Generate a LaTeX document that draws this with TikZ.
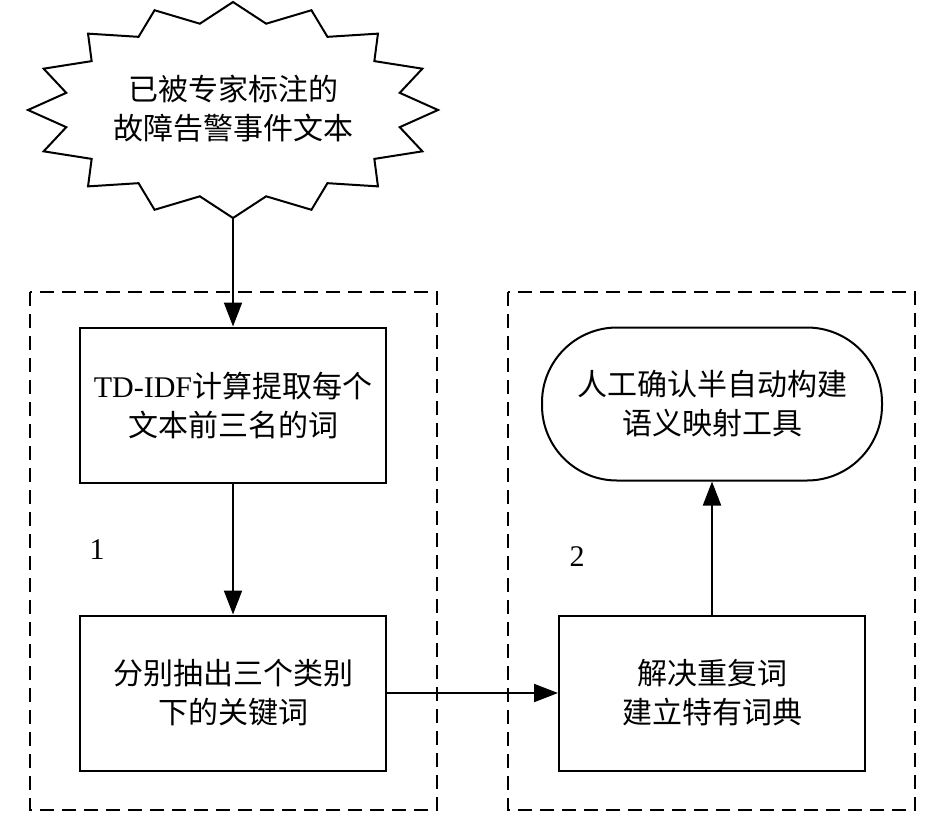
\documentclass[tikz,border=0pt]{standalone}
\usepackage{fontspec}
\setmainfont{Liberation Serif}
\newfontfamily\cjk{Noto Sans CJK SC}
\usetikzlibrary{arrows.meta}
\begin{document}
\begin{tikzpicture}[x=1pt,y=-1pt,
    testo/.style={align=center,font=\cjk\fontsize{30}{39}\selectfont},
    box/.style={testo,draw,line width=2pt,minimum width=306pt,minimum height=155pt},
    zona/.style={draw,line width=2pt,dash pattern=on 14pt off 8pt},
    freccia/.style={-{Triangle[length=24pt,width=18pt]},line width=2pt}]
    \useasboundingbox (0,0) rectangle (945,815);

    %stella
    \draw[line width=2pt,shift={(233,110)}] (90:205 and 108)
      \foreach \a in {1,...,16}{ -- (90+\a*22.5-11.25:170 and 88) -- (90+\a*22.5:205 and 108)} -- cycle;
    \node[testo] (testi) at (233,109) {已被专家标注的\\故障告警事件文本};
    \coordinate (punta) at (233,218);

    %riquadri tratteggiati
    \draw[zona] (30,292) rectangle (437,810);
    \draw[zona] (508,292) rectangle (915,810);

    %blocchi
    \node[box] (tfidf) at (233,405) {{\rmfamily TD-IDF}计算提取每个\\文本前三名的词};
    \node[box] (chiavi) at (233,693) {分别抽出三个类别\\下的关键词};
    \node[box] (dizionario) at (712,693) {解决重复词\\建立特有词典};
    \node[box,minimum width=340pt,minimum height=153pt,rounded corners=75pt] (mappa) at (712,404) {人工确认半自动构建\\语义映射工具};

    %frecce
    \draw[freccia] (punta) -- (tfidf);
    \draw[freccia] (tfidf) -- (chiavi);
    \draw[freccia] (chiavi) -- (dizionario);
    \draw[freccia] (dizionario) -- (mappa);

    \node[font=\fontsize{30}{36}\selectfont] (uno) at (97,550) {1};
    \node[font=\fontsize{30}{36}\selectfont] (due) at (577,557) {2};
\end{tikzpicture}
\end{document}
